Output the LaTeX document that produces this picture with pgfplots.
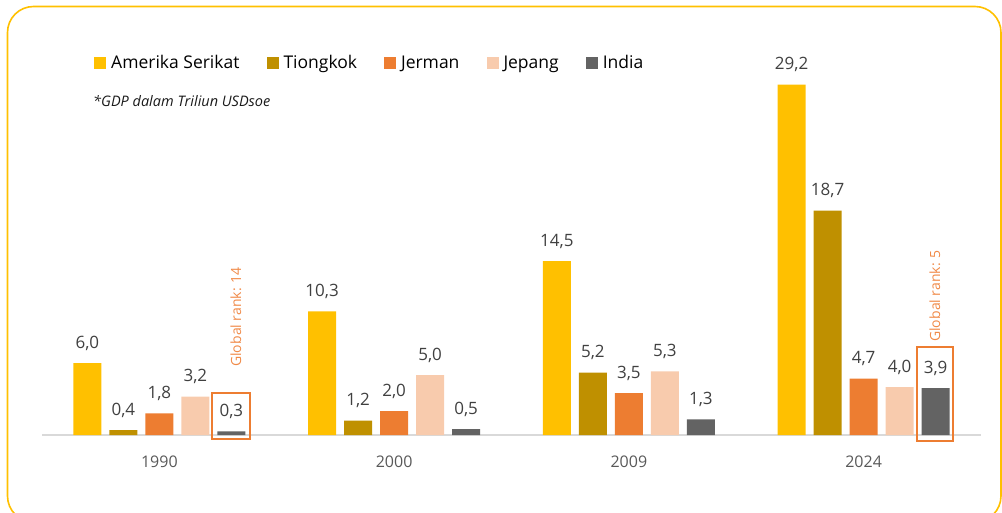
\documentclass[border=0pt]{standalone}
\usepackage{pgfplots}
\pgfplotsset{compat=1.18}
\usepackage{fontspec}
\setmainfont{Open Sans}
\definecolor{cUS}{HTML}{FFC000}
\definecolor{cCN}{HTML}{BF9000}
\definecolor{cDE}{HTML}{ED7D31}
\definecolor{cJP}{HTML}{F8CBAD}
\definecolor{cIN}{HTML}{636363}
\definecolor{frame}{HTML}{FFC000}
\definecolor{lbl}{HTML}{404040}
\definecolor{tick}{HTML}{595959}
\definecolor{rank}{HTML}{F08A48}
\begin{document}
\begin{tikzpicture}[x=1pt,y=-1pt]
\path[use as bounding box] (0,0) rectangle (1002,512);
\begin{scope}
\clip (0,0) rectangle (1002,512);
\draw[frame, line width=1.6pt, rounded corners=26pt] (7.5,6.5) rectangle (1001,522);
\end{scope}
\begin{axis}[
  at={(42pt,-435pt)}, anchor=south west,
  scale only axis, width=939pt, height=360pt,
  xmin=-0.5, xmax=3.5, ymin=0, ymax=30,
  axis x line*=bottom, axis y line=none,
  x axis line style={draw=black!15, line width=1.8pt, -},
  xtick={0,1,2,3}, xticklabels={1990,2000,2009,2024},
  major tick length=0pt,
  xticklabel style={font=\fontsize{16}{19}\selectfont, text=tick, yshift=-17pt},
  ybar, bar width=28pt,
  every axis plot/.append style={draw=none},
  nodes near coords,
  every node near coord/.append style={font=\fontsize{17}{20}\selectfont, text=lbl, yshift=9pt},
  /pgf/number format/.cd, fixed, fixed zerofill, precision=1, use comma, assume math mode=true,
  /pgfplots/.cd,
  legend columns=5,
  legend style={at={(axis description cs:0.0554,1.0333)}, anchor=west, draw=none, fill=none,
    font=\fontsize{17.5}{20}\selectfont, inner sep=0pt,
    /tikz/every odd column/.append style={column sep=3pt},
    /tikz/every even column/.append style={column sep=25pt}},
  legend cell align=left,
  legend image code/.code={\fill[#1] (0pt,-6pt) rectangle (12pt,6pt);},
]
\addplot[fill=cUS, bar shift=-72pt] coordinates {(0,6.0) (1,10.3) (2,14.5) (3,29.2)};
\addplot[fill=cCN, bar shift=-36pt] coordinates {(0,0.4) (1,1.2) (2,5.2) (3,18.7)};
\addplot[fill=cDE, bar shift=0pt] coordinates {(0,1.8) (1,2.0) (2,3.5) (3,4.7)};
\addplot[fill=cJP, bar shift=36pt] coordinates {(0,3.2) (1,5.0) (2,5.3) (3,4.0)};
\addplot[fill=cIN, bar shift=72pt] coordinates {(0,0.3) (1,0.5) (2,1.3) (3,3.9)};
\legend{Amerika Serikat,Tiongkok,Jerman,Jepang,India}
\end{axis}
\node[anchor=west, font=\fontsize{14.5}{17}\selectfont\itshape, text=black!90, inner sep=0pt] at (93,101) {*GDP dalam Triliun USDsoe};
\draw[cDE, line width=2pt] (212,393) rectangle (250,439);
\draw[cDE, line width=2pt] (917,347) rectangle (953,441);
\node[rotate=90, text=rank, font=\fontsize{14}{16}\selectfont, inner sep=0pt] at (236,317) {Global rank: 14};
\node[rotate=90, text=rank, font=\fontsize{14}{16}\selectfont, inner sep=0pt] at (935,296) {Global rank: 5};
\end{tikzpicture}
\end{document}
